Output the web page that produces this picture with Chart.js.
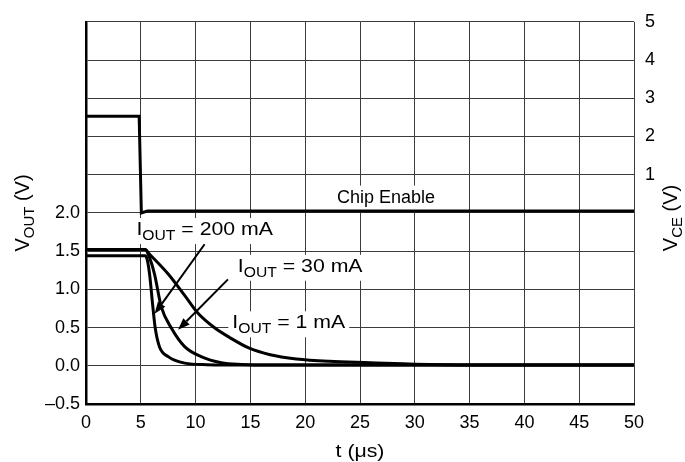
<!DOCTYPE html>
<html>
<head>
<meta charset="utf-8">
<script src="https://cdn.jsdelivr.net/npm/chart.js@4.4.1/dist/chart.umd.min.js"></script>
<style>
  html, body { margin: 0; padding: 0; background: #fff; }
  #wrap { width: 685px; height: 462px; position: relative; }
</style>
</head>
<body>
<div id="wrap"><canvas id="chart"></canvas></div>
<script>
// Axis ticks
const xTicks = [0, 5, 10, 15, 20, 25, 30, 35, 40, 45, 50];
const yTicks = [-0.5, 0, 0.5, 1, 1.5, 2, 2.5, 3, 3.5, 4, 4.5];
const yTickLabels = ['\u20130.5', '0.0', '0.5', '1.0', '1.5', '2.0'];
const y2Ticks = [1, 2, 3, 4, 5];

// Chip Enable (right axis, V_CE)
const tChip = [0, 4.85, 5.05, 5.6, 50];
const vChip = [2.53, 2.53, 0.0, 0.05, 0.05];

// V_OUT, I_OUT = 200 mA
const t200 = [0, 5.4, 5.6, 5.8, 6.1, 6.32, 6.7, 7.5, 9.0, 11, 15, 50];
const v200 = [1.44, 1.44, 1.38, 1.2, 0.77, 0.49, 0.25, 0.12, 0.035, 0.015, 0.01, 0.01];

// V_OUT, I_OUT = 30 mA
const t30 = [0, 5.4, 5.7, 6.25, 6.87, 7.8, 9.0, 10.5, 12.35, 14.2, 17, 50];
const v30 = [1.52, 1.52, 1.45, 1.2, 0.77, 0.49, 0.25, 0.12, 0.04, 0.018, 0.01, 0.01];

// V_OUT, I_OUT = 1 mA
const t1 = [0, 5.4, 5.8, 7.5, 9.0, 10.2, 11.7, 13.1, 14.9, 16.8, 19.2, 22.2, 25.9, 30, 35, 50];
const v1 = [1.52, 1.52, 1.46, 1.2, 0.92, 0.69, 0.5, 0.37, 0.23, 0.145, 0.09, 0.058, 0.04, 0.02, 0.01, 0.01];

const toPoints = (ts, vs) => ts.map((t, i) => ({ x: t, y: vs[i] }));

// Text labels (left = t, baseline = V_OUT)
const labels = [
    { parts: [['Chip Enable']], t: 22.9, v: 2.135, size: 18, stretch: 1 },
    { parts: [['I'], ['OUT', true], [' = 200 mA']], t: 4.6, v: 1.71 },
    { parts: [['I'], ['OUT', true], [' = 30 mA']], t: 13.85, v: 1.23 },
    { parts: [['I'], ['OUT', true], [' = 1 mA']], t: 13.35, v: 0.49 }
];
const arrows = [
    { from: [10.82, 1.59], to: [6.26, 0.68] },
    { from: [12.95, 1.13], to: [8.4, 0.47] }
];

const FONT = "'Liberation Sans', Arial, Helvetica, sans-serif";
const STRETCH = 1.12;

function richWidth(ctx, parts, size, subSize) {
    let w = 0;
    parts.forEach(([txt, sub]) => {
        ctx.font = (sub ? subSize : size) + 'px ' + FONT;
        w += ctx.measureText(txt).width;
    });
    return w;
}

function drawRich(ctx, parts, size, subSize) {
    let cx = 0;
    parts.forEach(([txt, sub]) => {
        ctx.font = (sub ? subSize : size) + 'px ' + FONT;
        ctx.fillText(txt, cx, sub ? 5 : 0);
        cx += ctx.measureText(txt).width;
    });
}

const textPlugin = {
    id: 'textPlugin',
    beforeDatasetsDraw(chart) {
        const ctx = chart.ctx;
        const xs = chart.scales.x, ys = chart.scales.y;
        ctx.save();
        ctx.textBaseline = 'alphabetic';
        labels.forEach(l => {
            const size = l.size || 19;
            const st = l.stretch || STRETCH;
            const x = xs.getPixelForValue(l.t);
            const y = ys.getPixelForValue(l.v);
            const w = richWidth(ctx, l.parts, size, 14) * st;
            ctx.fillStyle = '#fff';
            ctx.fillRect(x - 4, y - 17, w + 8, 26);
            ctx.fillStyle = '#000';
            ctx.save();
            ctx.translate(x, y);
            ctx.scale(st, 1);
            drawRich(ctx, l.parts, size, 14);
            ctx.restore();
        });
        ctx.restore();
    },
    afterDatasetsDraw(chart) {
        const ctx = chart.ctx;
        const xs = chart.scales.x, ys = chart.scales.y;
        ctx.save();
        ctx.strokeStyle = '#000';
        ctx.fillStyle = '#000';
        ctx.lineWidth = 2;
        arrows.forEach(a => {
            const x0 = xs.getPixelForValue(a.from[0]), y0 = ys.getPixelForValue(a.from[1]);
            const x1 = xs.getPixelForValue(a.to[0]), y1 = ys.getPixelForValue(a.to[1]);
            const ang = Math.atan2(y1 - y0, x1 - x0);
            const len = 12, half = 4.5;
            const bx = x1 - len * Math.cos(ang), by = y1 - len * Math.sin(ang);
            ctx.beginPath();
            ctx.moveTo(x0, y0);
            ctx.lineTo(bx, by);
            ctx.stroke();
            ctx.beginPath();
            ctx.moveTo(x1, y1);
            ctx.lineTo(bx + half * Math.sin(ang), by - half * Math.cos(ang));
            ctx.lineTo(bx - half * Math.sin(ang), by + half * Math.cos(ang));
            ctx.closePath();
            ctx.fill();
        });

        // axis titles
        ctx.textBaseline = 'alphabetic';
        const xt = [['t (\u03BCs)']];
        let w = richWidth(ctx, xt, 19, 14) * STRETCH;
        ctx.save();
        ctx.translate(360 - w / 2, 457);
        ctx.scale(STRETCH, 1);
        drawRich(ctx, xt, 19, 14);
        ctx.restore();

        const yt = [['V'], ['OUT', true], [' (V)']];
        w = richWidth(ctx, yt, 20, 15);
        ctx.save();
        ctx.translate(29, 213);
        ctx.rotate(-Math.PI / 2);
        ctx.translate(-w / 2, 0);
        drawRich(ctx, yt, 20, 15);
        ctx.restore();

        const y2t = [['V'], ['CE', true], [' (V)']];
        w = richWidth(ctx, y2t, 20, 15);
        ctx.save();
        ctx.translate(677, 218);
        ctx.rotate(-Math.PI / 2);
        ctx.translate(-w / 2, 0);
        drawRich(ctx, y2t, 20, 15);
        ctx.restore();
        ctx.restore();
    }
};

Chart.defaults.font.family = FONT;
Chart.defaults.color = '#000';

const lineStyle = {
    borderColor: '#000',
    borderWidth: 3,
    pointRadius: 0,
    fill: false
};

new Chart(document.getElementById('chart'), {
    type: 'line',
    data: {
        datasets: [
            { ...lineStyle, label: 'Chip Enable', data: toPoints(tChip, vChip), yAxisID: 'y2', tension: 0 },
            { ...lineStyle, label: 'IOUT = 200 mA', data: toPoints(t200, v200), yAxisID: 'y', cubicInterpolationMode: 'monotone' },
            { ...lineStyle, label: 'IOUT = 30 mA', data: toPoints(t30, v30), yAxisID: 'y', cubicInterpolationMode: 'monotone' },
            { ...lineStyle, label: 'IOUT = 1 mA', data: toPoints(t1, v1), yAxisID: 'y', cubicInterpolationMode: 'monotone' }
        ]
    },
    options: {
        responsive: true,
        maintainAspectRatio: false,
        animation: false,
        layout: { padding: { top: 20, left: 0, right: 0, bottom: 0 } },
        plugins: {
            legend: { display: false },
            tooltip: { enabled: false }
        },
        scales: {
            x: {
                type: 'linear',
                min: 0,
                max: 50,
                afterBuildTicks: axis => { axis.ticks = xTicks.map(v => ({ value: v })); },
                afterFit: axis => { axis.height = 58; },
                grid: { color: '#3c3c3c', lineWidth: 1, drawTicks: false },
                border: { color: '#000', width: 2.5 },
                ticks: { font: { size: 18 }, color: '#000', padding: 8, maxRotation: 0 }
            },
            y: {
                position: 'left',
                min: -0.5,
                max: 4.5,
                afterBuildTicks: axis => { axis.ticks = yTicks.map(v => ({ value: v })); },
                afterFit: axis => { axis.width = 86; },
                grid: { color: '#3c3c3c', lineWidth: 1, drawTicks: false },
                border: { color: '#000', width: 2.5 },
                ticks: {
                    font: { size: 18 },
                    color: '#000',
                    padding: 6,
                    callback: v => v <= 2 ? yTickLabels[yTicks.indexOf(v)] : ''
                }
            },
            y2: {
                position: 'right',
                min: -5,
                max: 5,
                afterBuildTicks: axis => { axis.ticks = y2Ticks.map(v => ({ value: v })); },
                afterFit: axis => { axis.width = 51; },
                grid: { display: false, drawTicks: false },
                border: { display: false },
                ticks: { font: { size: 18 }, color: '#000', padding: 11, callback: v => String(v) }
            }
        }
    },
    plugins: [textPlugin]
});
</script>
</body>
</html>
